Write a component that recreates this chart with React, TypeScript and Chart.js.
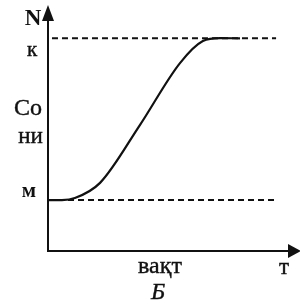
import React, { useEffect, useRef } from "react";
import { Chart, registerables } from "chart.js";

Chart.register(...registerables);

// Data (abstract units: time 0..100, population 0..100)
const timeValues = [0, 5.6, 10.8, 20.9, 36.9, 53, 62.2, 69.1, 77.1];
const populationValues = [20.8, 20.8, 21.6, 27.8, 51.4, 76.7, 85.7, 86.9, 86.8];
const capacityK = 86.8;
const initialM = 20.8;
const capacityRange = [1.6, 91.6];
const initialRange = [0, 90.8];
const yAxisLabel = "N";
const kLabel = "к";
const mLabel = "м";
const yTitleLines = ["Со", "ни"];
const xTitle = "вақт";
const xEndLabel = "т";
const captionLabel = "Б";

const INK = "#111111";

function txt(ctx: CanvasRenderingContext2D, s: string, x: number, y: number, font: string, stroke = 0.4) {
  ctx.font = font;
  ctx.fillText(s, x, y);
  if (stroke > 0) {
    ctx.lineWidth = stroke;
    ctx.strokeText(s, x, y);
  }
}

const drawPlugin = {
  id: "schematic",
  afterDatasetsDraw(chart: any) {
    const ctx = chart.ctx as CanvasRenderingContext2D;
    const xs = chart.scales.x;
    const ys = chart.scales.y;
    const x0 = xs.getPixelForValue(0);
    const y0 = ys.getPixelForValue(0);
    const yTop = ys.getPixelForValue(100);
    const xEnd = xs.getPixelForValue(100);
    ctx.save();
    ctx.strokeStyle = INK;
    ctx.fillStyle = INK;
    ctx.lineWidth = 2;
    // y axis
    ctx.beginPath();
    ctx.moveTo(x0, y0 + 1);
    ctx.lineTo(x0, yTop + 12);
    ctx.stroke();
    ctx.beginPath();
    ctx.moveTo(x0, yTop - 1);
    ctx.lineTo(x0 - 6, yTop + 15);
    ctx.lineTo(x0 + 6, yTop + 15);
    ctx.closePath();
    ctx.fill();
    // x axis
    ctx.beginPath();
    ctx.moveTo(x0 - 1, y0);
    ctx.lineTo(xEnd - 8, y0);
    ctx.stroke();
    ctx.beginPath();
    ctx.moveTo(xEnd + 4, y0);
    ctx.lineTo(xEnd - 9, y0 - 7);
    ctx.lineTo(xEnd - 9, y0 + 7);
    ctx.closePath();
    ctx.fill();

    // texts
    ctx.textBaseline = "alphabetic";
    ctx.textAlign = "center";
    const serif = "'Liberation Serif', serif";
    txt(ctx, yAxisLabel, 33, 25, `bold 23px ${serif}`, 0);
    txt(ctx, kLabel, 32, 56, `21px ${serif}`);
    txt(ctx, yTitleLines[0], 28, 115, `24px ${serif}`);
    txt(ctx, yTitleLines[1], 30.5, 143, `23px ${serif}`);
    txt(ctx, mLabel, 29, 197, `bold 21px ${serif}`, 0);
    txt(ctx, xTitle, 160, 273, `24px ${serif}`);
    txt(ctx, xEndLabel, 284, 274, `23px ${serif}`);
    txt(ctx, captionLabel, 158, 299, `italic 24px ${serif}`);
    ctx.restore();
  },
};

export default function App() {
  const ref = useRef<HTMLCanvasElement | null>(null);
  useEffect(() => {
    if (!ref.current) return;
    const chart = new Chart(ref.current, {
      type: "line",
      data: {
        datasets: [
          {
            data: timeValues.map((t, i) => ({ x: t, y: populationValues[i] })),
            borderColor: INK,
            borderWidth: 2.2,
            pointRadius: 0,
            cubicInterpolationMode: "monotone",
            order: 0,
          },
          {
            data: capacityRange.map((t) => ({ x: t, y: capacityK })),
            borderColor: INK,
            borderWidth: 2,
            borderDash: [6, 4],
            pointRadius: 0,
            order: 1,
          },
          {
            data: initialRange.map((t) => ({ x: t, y: initialM })),
            borderColor: INK,
            borderWidth: 2,
            borderDash: [6, 4],
            pointRadius: 0,
            order: 1,
          },
        ],
      },
      options: {
        responsive: false,
        animation: false,
        layout: { padding: { left: 48, right: 3, top: 6, bottom: 53 } },
        scales: {
          x: { type: "linear", min: 0, max: 100, display: false },
          y: { type: "linear", min: 0, max: 100, display: false },
        },
        plugins: { legend: { display: false }, tooltip: { enabled: false } },
      },
      plugins: [drawPlugin],
    } as any);
    return () => chart.destroy();
  }, []);
  return (
    <div style={{ position: "fixed", left: 0, top: 0, width: 300, height: 304, background: "#fff" }}>
      <canvas ref={ref} width={300} height={304} style={{ display: "block" }} />
    </div>
  );
}
